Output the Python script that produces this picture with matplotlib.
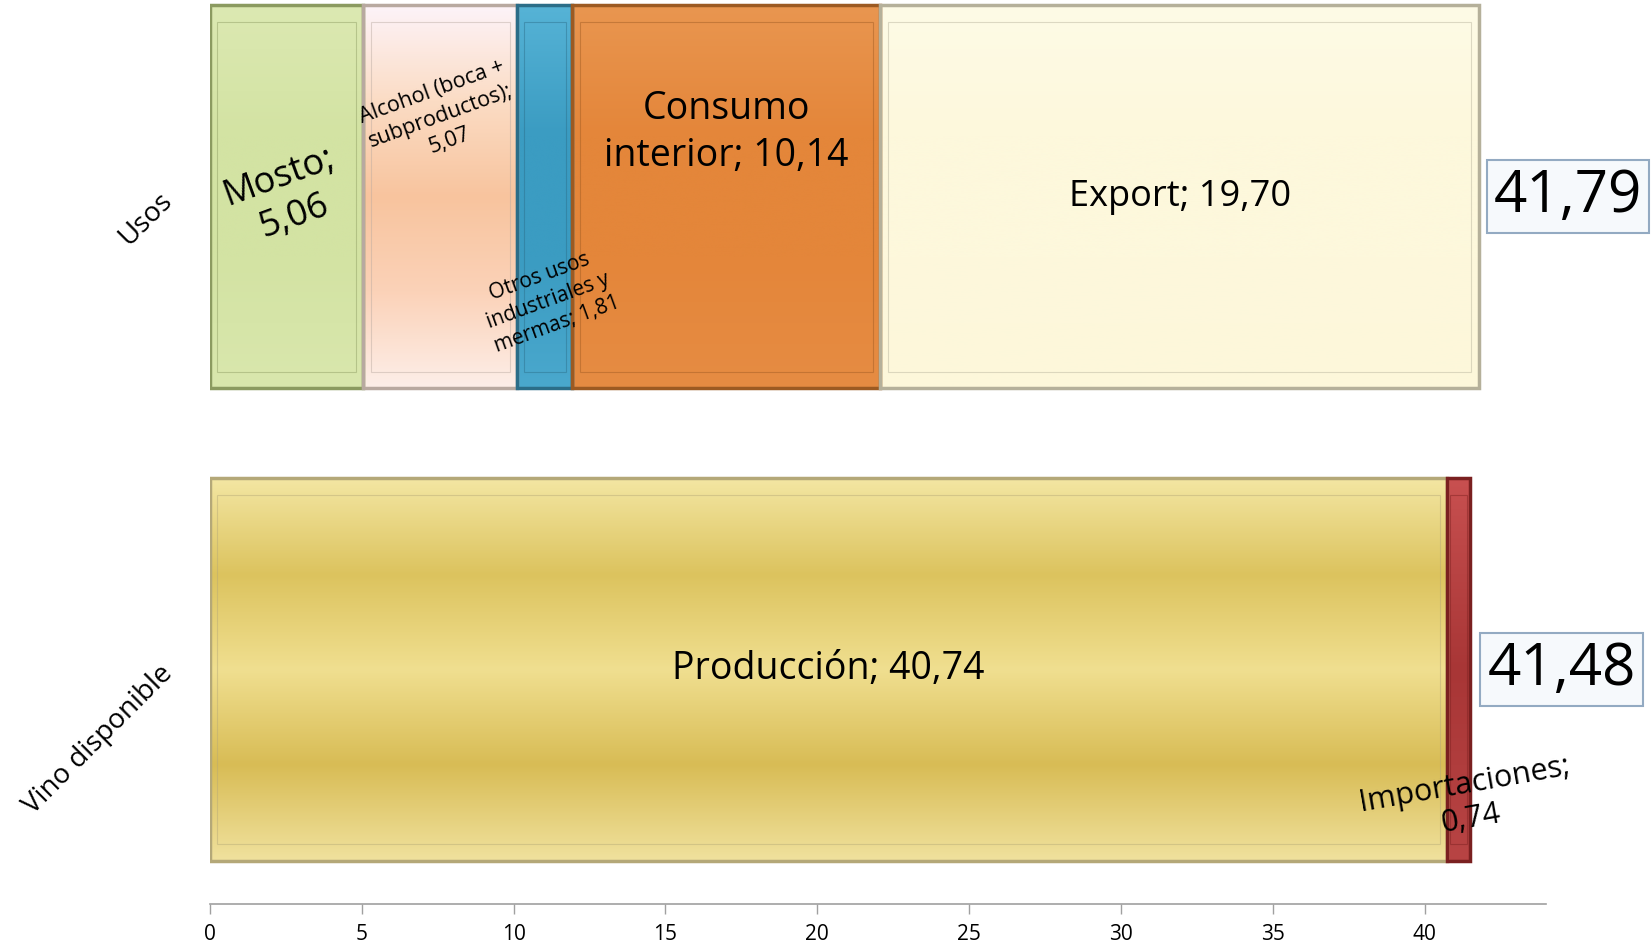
import matplotlib
matplotlib.use("Agg")
from matplotlib import pyplot as plt
from matplotlib.colors import LinearSegmentedColormap
from matplotlib.patches import Rectangle
import numpy as np

plt.rcParams['font.family'] = ['Open Sans', 'DejaVu Sans']

# data (millones de hl)
categories = ["Vino disponible", "Usos"]
usos_labels = ["Mosto", "Alcohol (boca + subproductos)", "Otros usos industriales y mermas",
               "Consumo interior", "Export"]
usos_values = [5.06, 5.07, 1.81, 10.14, 19.70]
usos_total = 41.79
vino_labels = ["Producción", "Importaciones"]
vino_values = [40.74, 0.74]
vino_total = 41.48

usos_texts = ["Mosto;\n5,06", "Alcohol (boca +\nsubproductos);\n5,07",
              "Otros usos\nindustriales y\nmermas; 1,81", "Consumo\ninterior; 10,14",
              "Export; 19,70"]
vino_texts = ["Producción; 40,74", "Importaciones;\n0,74"]

# gradient stops top -> bottom for every segment
usos_fill = [["#dce9b2", "#d3e3a3", "#d3e3a3", "#d9e7ad"],
             ["#fdf3f8", "#fbdcc4", "#f8c49e", "#fbd2b8", "#fdeee8"],
             ["#56b3d6", "#3b9cc2", "#3b9cc2", "#4aa8cd"],
             ["#e99650", "#e4863a", "#e4863a", "#e68c43"],
             ["#fefbe6", "#fdf8dc", "#fdf8dc", "#fdf7da"]]
usos_edge = ["#8b9a60", "#b8a9a0", "#2b6d88", "#9c5a22", "#b5b09a"]
vino_fill = [["#f3e6a2", "#dcc35e", "#f0df90", "#d8bc55", "#f0e19d"],
             ["#c85050", "#a83636", "#b84444"]]
vino_edge = ["#b4a878", "#7a2020"]

fig = plt.figure(figsize=(16.52, 9.5), dpi=100)
ax = fig.add_axes([0.127, 0.048, 0.809, 0.952])

height = 0.81


def draw_segments(y, values, fills, edges):
    left = 0
    for val, stops, ec in zip(values, fills, edges):
        bar = ax.barh(y, val, left=left, height=height, color="none",
                      edgecolor=ec, linewidth=2.5, zorder=3)[0]
        x0, y0 = bar.get_x(), bar.get_y()
        x1, y1 = x0 + bar.get_width(), y0 + bar.get_height()
        cmap = LinearSegmentedColormap.from_list("g", stops)
        grad = np.linspace(0, 1, 200).reshape(-1, 1)
        ax.imshow(grad, cmap=cmap, extent=[x0, x1, y0, y1], aspect='auto',
                  interpolation='bicubic', zorder=2, origin='upper')
        # bevel: thin inner frame
        dx = min(0.25, bar.get_width() * 0.12)
        dy = 0.035
        ax.add_patch(Rectangle((x0 + dx, y0 + dy), bar.get_width() - 2 * dx,
                               bar.get_height() - 2 * dy, fill=False,
                               edgecolor=ec, linewidth=0.8, alpha=0.45, zorder=3))
        left += val


draw_segments(1, usos_values, usos_fill, usos_edge)
draw_segments(0, vino_values, vino_fill, vino_edge)

# segment labels
starts = np.concatenate([[0], np.cumsum(usos_values)[:-1]])
mids = starts + np.array(usos_values) / 2
ax.text(mids[0], 1.0, usos_texts[0], fontsize=26, rotation=20, ha='center', va='center',
        zorder=5, linespacing=1.25)
ax.text(mids[1], 1.17, usos_texts[1], fontsize=15.5, rotation=20, ha='center', va='center',
        zorder=5, linespacing=1.3)
ax.text(mids[2] + 0.1, 0.78, usos_texts[2], fontsize=15, rotation=20, ha='center',
        va='center', zorder=5, linespacing=1.3)
ax.text(mids[3], 1.135, usos_texts[3], fontsize=27, ha='center', va='center',
        zorder=5, linespacing=1.3)
ax.text(mids[4], 1.0, usos_texts[4], fontsize=26, ha='center', va='center', zorder=5)

ax.text(vino_values[0] / 2, 0.0, vino_texts[0], fontsize=27, ha='center', va='center',
        zorder=5)
ax.text(vino_values[0] + vino_values[1] / 2 + 0.3, -0.28, vino_texts[1], fontsize=22,
        rotation=10, ha='center', va='center', zorder=5, linespacing=1.25)

# totals
box = dict(boxstyle='square,pad=0.12', facecolor='#f6f9fc', edgecolor='#93aac2', linewidth=1.5)
ax.text(44.72, 1.0, f"{usos_total:.2f}".replace(".", ","), fontsize=42, ha='center',
        va='center', bbox=box, clip_on=False, zorder=6)
ax.text(44.5, 0.0, f"{vino_total:.2f}".replace(".", ","), fontsize=42, ha='center',
        va='center', bbox=box, clip_on=False, zorder=6)

ax.set_xlim(0, 44)
ax.set_ylim(-0.497, 1.416)
ax.set_xticks(range(0, 41, 5))
ax.tick_params(axis='x', labelsize=15, length=7, width=1, color='#a0a0a0', pad=7)
ax.set_yticks([0, 1])
ax.set_yticklabels(categories, rotation=45, ha='right', va='center',
                   rotation_mode='anchor', fontsize=20)
ax.tick_params(axis='y', length=0, pad=30)
for s in ['top', 'right', 'left']:
    ax.spines[s].set_visible(False)
ax.spines['bottom'].set_color('#a0a0a0')
ax.spines['bottom'].set_linewidth(1.2)

fig.savefig("out.png", dpi=100)
